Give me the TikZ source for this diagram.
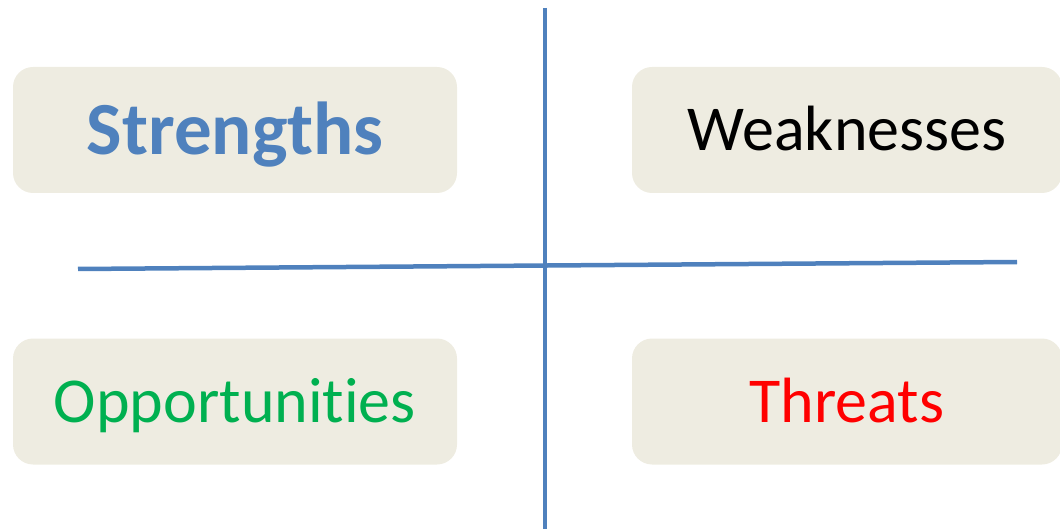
\documentclass[tikz,border=0pt]{standalone}
\usepackage{fontspec}
\setmainfont[RawFeature=-liga]{Carlito}
\definecolor{swotfill}{HTML}{EEECE1}
\definecolor{swotblue}{HTML}{4F81BD}
\definecolor{swotgreen}{HTML}{00B050}
\definecolor{swotred}{HTML}{FF0000}
\begin{document}
\begin{tikzpicture}
	[x=1pt, y=-1pt,
	swotbox/.style={rounded corners=20pt, fill=swotfill,
		minimum height=126pt, inner sep=0pt,
		text height=42pt, text depth=0pt,
		font=\fontsize{64}{77}\selectfont},
	axis/.style={draw=swotblue, line width=4.5pt}]
	\useasboundingbox (0,0) rectangle (1060,529);
	% the four fields
	\node[swotbox, minimum width=444pt, text=swotblue, text height=49pt,
		font=\fontsize{75}{90}\selectfont\bfseries] (S) at (235,130) {Strengths};
	\node[swotbox, minimum width=430pt] (W) at (847,130) {Weaknesses};
	\node[swotbox, minimum width=444pt, text=swotgreen] (O) at (235,401.5) {Opportunities};
	\node[swotbox, minimum width=430pt, text=swotred] (T) at (847,401.5) {Threats};
	% the cross
	\coordinate (top) at (545,8);
	\coordinate (bottom) at (545,529);
	\coordinate (left) at (78,269);
	\coordinate (right) at (1017,262);
	\draw[axis] (left) -- (right);
	\draw[axis] (top) -- (bottom);
\end{tikzpicture}
\end{document}
